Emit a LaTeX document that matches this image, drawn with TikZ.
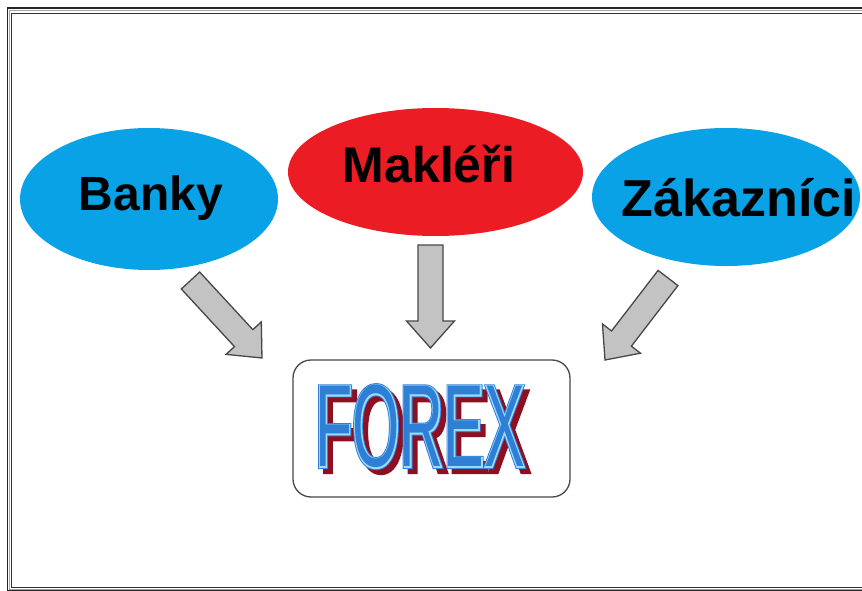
\documentclass[tikz,border=0pt]{standalone}
\usepackage{fontspec}
\setmainfont{Liberation Sans}
\newfontfamily\fxFontCore[FakeStretch=0.52]{Liberation Sans}
\newfontfamily\fxFontCyan[FakeStretch=0.52,FakeBold=2]{Liberation Sans}
\newfontfamily\fxFontRing[FakeStretch=0.52,FakeBold=3.6]{Liberation Sans}
\usetikzlibrary{shapes.geometric,calc}
\definecolor{paintblue}{HTML}{0AA2E6}
\definecolor{paintred}{HTML}{EC1C24}
\definecolor{arrfill}{HTML}{C3C3C3}
\definecolor{arrline}{HTML}{474747}
\definecolor{fxblue}{HTML}{2F7FD6}
\definecolor{fxcyan}{HTML}{9ADCFF}
\definecolor{fxred}{HTML}{8E1020}
\tikzset{
  bubble/.style={ellipse, inner sep=0pt, draw=none},
  lbl/.style={inner sep=0pt, text depth=0pt, text=black},
  blockarrow/.style={draw=arrline, fill=arrfill, line width=1.3pt, line join=miter},
  fx/.style={inner sep=0pt, text depth=0pt, text height=83.8pt, font=\fontsize{117}{120}\selectfont}
}
\newcommand\blockarr[2]{%
  \pgfpointdiff{\pgfpointanchor{#1}{center}}{\pgfpointanchor{#2}{center}}%
  \pgfgetlastxy{\bax}{\bay}%
  \pgfmathsetmacro\balen{veclen(\bax,\bay)}%
  \pgfmathsetmacro\baang{atan2(\bay,\bax)}%
  \begin{scope}[shift={(#1)}, rotate=\baang]
    \draw[blockarrow] (0,-12.5) -- (\balen-27,-12.5) -- (\balen-27,-24) -- (\balen,0)
      -- (\balen-27,24) -- (\balen-27,12.5) -- (0,12.5) -- cycle;
  \end{scope}}
\begin{document}
\begin{tikzpicture}[x=1pt,y=-1pt]
\useasboundingbox (0,0) rectangle (862,591);
% frame
\begin{scope}
  \clip (0,0) rectangle (862,591);
  \draw[line width=1.6pt, black!85] (7.5,8) rectangle (880,590.5);
  \draw[line width=0.8pt, black!35] (9.7,10.8) rectangle (880,589);
  \draw[line width=1pt, black!80] (11.7,13.8) rectangle (880,587.5);
\end{scope}
% ellipses
\node[bubble, fill=paintblue, minimum width=258, minimum height=142] (banky) at (149,199) {};
\node[bubble, fill=paintred, minimum width=295, minimum height=128] (makleri) at (435.5,172) {};
\node[bubble, fill=paintblue, minimum width=268, minimum height=138] (zakaznici) at (726,197) {};
\node[lbl, text height=34.4pt, font=\fontsize{48}{50}\selectfont\bfseries] (bankyT) at (151,193.5) {Banky};
\node[lbl, text height=35.8pt, font=\fontsize{50}{52}\selectfont\bfseries] (makleriT) at (429,165) {Makléři};
\node[lbl, text height=37.2pt, font=\fontsize{52}{54}\selectfont\bfseries] (zakazniciT) at (739,197.5) {Zákazníci};
% FOREX box
\node[draw=arrline, line width=1.3pt, rounded corners=18pt, minimum width=277, minimum height=137, inner sep=0pt] (forexbox) at (431.5,428.5) {};
\node[fx, text=fxred] (fxShadow) at (425,430) {\fxFontRing FOREX};
\node[fx, text=fxblue] (fxRing) at (420,425) {\fxFontRing FOREX};
\node[fx, text=fxcyan] (fxCyan) at (420,425) {\fxFontCyan FOREX};
\node[fx, text=fxblue] (fxCore) at (420,425) {\fxFontCore FOREX};
% block arrows
\coordinate (aL1) at (190.5,280.5); \coordinate (aL2) at (262,358);
\coordinate (aM1) at (430.5,245);   \coordinate (aM2) at (430.5,348);
\coordinate (aR1) at (668,278);     \coordinate (aR2) at (605,360);
\blockarr{aL1}{aL2}
\blockarr{aM1}{aM2}
\blockarr{aR1}{aR2}
\end{tikzpicture}
\end{document}
